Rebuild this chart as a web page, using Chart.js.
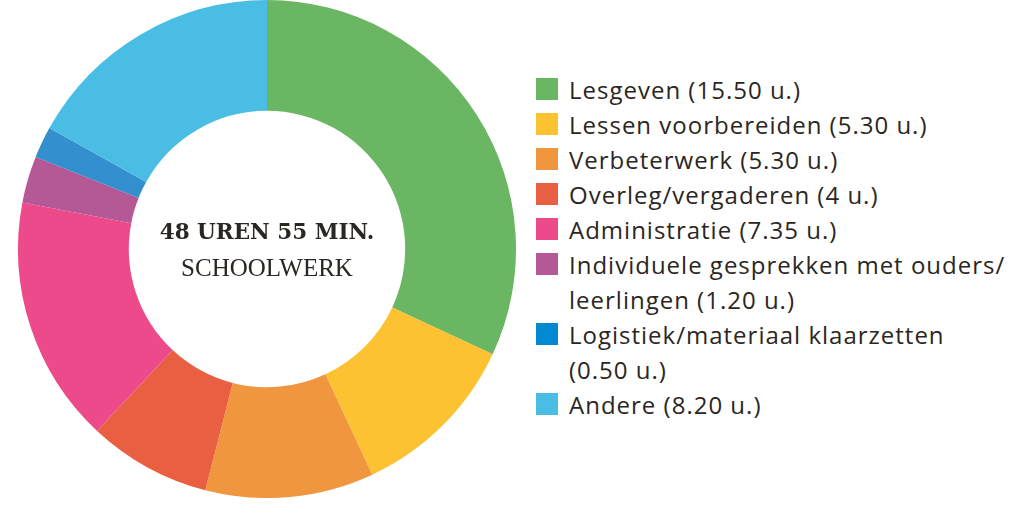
<!DOCTYPE html>
<html>
<head>
<meta charset="utf-8">
<script src="https://cdn.jsdelivr.net/npm/chart.js@4"></script>
<style>
  html, body { margin: 0; padding: 0; background: #ffffff; }
  body { width: 1024px; height: 514px; position: relative; overflow: hidden; }
  #wrap { position: absolute; left: 0; top: 0; width: 534px; height: 498px; }
  #legend { position: absolute; left: 536px; top: 72px; font-family: "Open Sans", sans-serif; font-size: 24px; letter-spacing: 1px; color: #2b2622; }
  .row { display: flex; align-items: flex-start; line-height: 35px; }
  .sw { width: 22px; height: 22px; margin-top: 6px; margin-right: 11px; flex: none; }
  .txt { white-space: nowrap; }
</style>
</head>
<body>
<div id="wrap"><canvas id="c"></canvas></div>
<div id="legend"></div>
<script>
// Categories (legend text, possibly wrapped over lines)
const categories = [
  ["Lesgeven (15.50 u.)"],
  ["Lessen voorbereiden (5.30 u.)"],
  ["Verbeterwerk (5.30 u.)"],
  ["Overleg/vergaderen (4 u.)"],
  ["Administratie (7.35 u.)"],
  ["Individuele gesprekken met ouders/", "leerlingen (1.20 u.)"],
  ["Logistiek/materiaal klaarzetten", "(0.50 u.)"],
  ["Andere (8.20 u.)"]
];
// Slice sizes in minutes (total 48 u. 55 min.)
const minutes = [938, 326, 321, 234, 471, 89, 60, 497];
const sliceColors = ["#6ab662", "#fdc232", "#f0963e", "#e85f42", "#ec4a8a", "#b45896", "#348fcf", "#4abde5"];
const legendColors = ["#6ab662", "#fdc232", "#f0963e", "#e85f42", "#ec4a8a", "#b45896", "#0089d0", "#4abde5"];
const centerTitle = "48 UREN 55 MIN.";
const centerSub = "SCHOOLWERK";

const legend = document.getElementById('legend');
categories.forEach((lines, i) => {
  const row = document.createElement('div');
  row.className = 'row';
  const sw = document.createElement('div');
  sw.className = 'sw';
  sw.style.background = legendColors[i];
  const t = document.createElement('div');
  t.className = 'txt';
  t.innerHTML = lines.map(s => s.replace(/&/g,'&amp;').replace(/</g,'&lt;')).join('<br>');
  row.appendChild(sw); row.appendChild(t);
  legend.appendChild(row);
});

const centerText = {
  id: 'centerText',
  afterDraw(chart) {
    const meta = chart.getDatasetMeta(0);
    if (!meta.data.length) return;
    const arc = meta.data[0];
    const cx = arc.x, cy = arc.y;
    const ctx = chart.ctx;
    ctx.save();
    ctx.fillStyle = '#2b2622';
    ctx.textAlign = 'center';
    ctx.textBaseline = 'middle';
    ctx.font = 'bold 21.5px "DejaVu Serif", serif';
    ctx.fillText(centerTitle, cx, cy - 16);
    ctx.font = '25px "Liberation Serif", serif';
    ctx.fillText(centerSub, cx, cy + 20);
    ctx.restore();
  }
};

new Chart(document.getElementById('c'), {
  type: 'doughnut',
  data: {
    labels: categories.map(l => l.join(' ')),
    datasets: [{
      data: minutes,
      backgroundColor: sliceColors,
      borderWidth: 0,
      hoverOffset: 0
    }]
  },
  options: {
    responsive: true,
    maintainAspectRatio: false,
    animation: false,
    cutout: '55.5%',
    layout: { padding: 0 },
    plugins: { legend: { display: false }, tooltip: { enabled: false } }
  },
  plugins: [centerText]
});
</script>
</body>
</html>
